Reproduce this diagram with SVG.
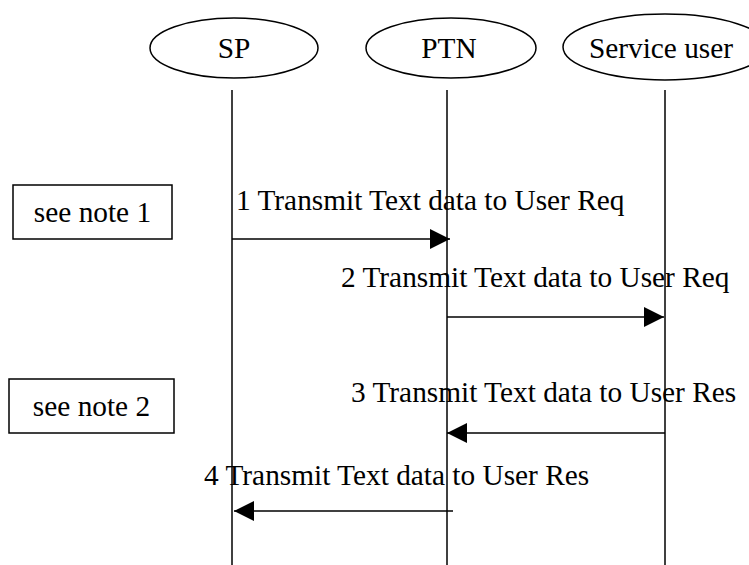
<svg xmlns="http://www.w3.org/2000/svg" width="749" height="565" viewBox="0 0 749 565">
<style>
  .shape { fill: #ffffff; stroke: #000000; stroke-width: 1.5; }
  .life { stroke: #000000; stroke-width: 1.5; fill: none; }
  .msg { stroke: #000000; stroke-width: 1.5; fill: none; marker-end: url(#arrow); }
  text { font-family: "Liberation Serif", "Times New Roman", serif; font-size: 29.33px; fill: #000000; }
  .c { text-anchor: middle; }
</style>
<defs>
  <marker id="arrow" markerUnits="userSpaceOnUse" markerWidth="20" markerHeight="20" viewBox="0 0 20 20" refX="20" refY="10" orient="auto">
    <path d="M0,0 L20,10 L0,20 Z" fill="#000000"/>
  </marker>
</defs>
<rect width="749" height="565" fill="#ffffff"/>
<g id="lifelines">
  <line class="life" x1="232" y1="90" x2="232" y2="565"/>
  <line class="life" x1="447" y1="90" x2="447" y2="565"/>
  <line class="life" x1="665" y1="90" x2="665" y2="565"/>
</g>
<g id="node-sp">
  <ellipse class="shape" cx="234" cy="48" rx="84" ry="30"/>
  <text class="c" x="234" y="58">SP</text>
</g>
<g id="node-ptn">
  <ellipse class="shape" cx="451" cy="48" rx="85" ry="30"/>
  <text class="c" x="449" y="58">PTN</text>
</g>
<g id="node-su">
  <ellipse class="shape" cx="665" cy="47" rx="102" ry="33"/>
  <text class="c" x="661" y="58">Service user</text>
</g>
<g id="note1">
  <rect class="shape" x="13" y="185" width="159" height="54"/>
  <text class="c" x="92.5" y="222">see note 1</text>
</g>
<g id="note2">
  <rect class="shape" x="9" y="379" width="165" height="54"/>
  <text class="c" x="91.5" y="416">see note 2</text>
</g>
<g id="connectors">
  <line class="msg" x1="232" y1="239" x2="450" y2="239"/>
  <line class="msg" x1="447" y1="317" x2="664" y2="317"/>
  <line class="msg" x1="665" y1="433" x2="447" y2="433"/>
  <line class="msg" x1="453" y1="511" x2="234" y2="511"/>
</g>
<g id="labels">
  <text x="236" y="210">1 Transmit Text data to User Req</text>
  <text x="341" y="287">2 Transmit Text data to User Req</text>
  <text x="351" y="402">3 Transmit Text data to User Res</text>
  <text x="204" y="485">4 Transmit Text data to User Res</text>
</g>
</svg>
